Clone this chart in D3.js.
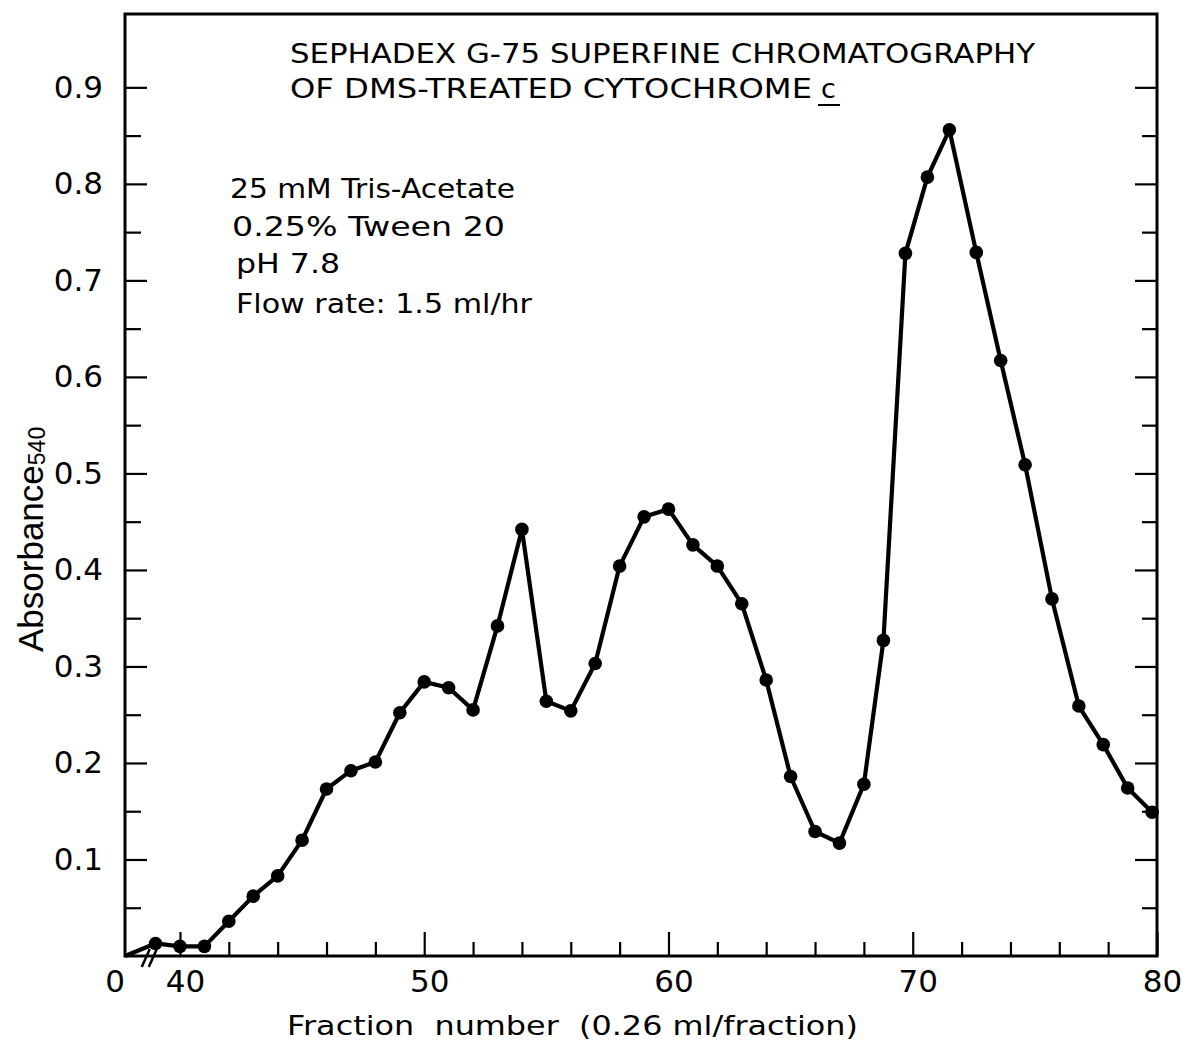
<!DOCTYPE html>
<html><head><meta charset="utf-8">
<script src="https://cdn.jsdelivr.net/npm/d3@7"></script>
<style>
body{margin:0;background:#fff}
text{font-family:"DejaVu Sans",sans-serif;fill:#000;white-space:pre}
</style>
</head><body>
<svg id="c" width="1182" height="1045"></svg>
<script>
// ---- data ----
const fractions = [0, 39, 40, 41, 42, 43, 44, 45, 46, 47, 48, 49, 50, 51, 52, 53, 54, 55, 56, 57, 58, 59, 60,
  61, 62, 63, 64, 65, 66, 67, 68, 68.8, 69.7, 70.6, 71.5, 72.6, 73.6, 74.6, 75.7, 76.8, 77.8, 78.8, 79.8];
const absorbance = [0, 0.013, 0.010, 0.010, 0.036, 0.062, 0.083, 0.120, 0.173, 0.192, 0.201, 0.252, 0.284, 0.278,
  0.255, 0.342, 0.442, 0.264, 0.254, 0.303, 0.404, 0.455, 0.463, 0.426, 0.404, 0.365, 0.286, 0.186, 0.129,
  0.117, 0.178, 0.327, 0.728, 0.807, 0.856, 0.729, 0.617, 0.509, 0.370, 0.259, 0.219, 0.174, 0.149];
const xMajorTicks = [40, 50, 60, 70, 80];
const xMinorTicks = [42, 44, 46, 48, 52, 54, 56, 58, 62, 64, 66, 68, 72, 74, 76, 78];
const yMajorTicks = [0.1, 0.2, 0.3, 0.4, 0.5, 0.6, 0.7, 0.8, 0.9];
const yMinorTicks = [0.05, 0.15, 0.25, 0.35, 0.45, 0.55, 0.65, 0.75, 0.85];
const titleLines = ["SEPHADEX G-75 SUPERFINE CHROMATOGRAPHY", "OF DMS-TREATED CYTOCHROME"];
const titleTail = "c";
const conditions = ["25 mM Tris-Acetate", "0.25% Tween 20", "pH 7.8", "Flow rate: 1.5 ml/hr"];
const xTitle = "Fraction  number  (0.26 ml/fraction)";
const yTitle = "Absorbance";
const yTitleSub = "540";

// ---- layout ----
const L = 125, R = 1157, T = 14, B = 956;
const svg = d3.select("#c");
svg.append("rect").attr("width", 1182).attr("height", 1045).attr("fill", "#fff");

// broken x scale: fraction 0 sits at the origin, then 37.75..80 linear
const x = d3.scaleLinear().domain([0, 37.75, 80]).range([L, L, R]);
const y = d3.scaleLinear().domain([0, 0.976]).range([B, T]);

// frame
svg.append("rect").attr("x", L).attr("y", T).attr("width", R - L).attr("height", B - T)
  .attr("fill", "none").attr("stroke", "#000").attr("stroke-width", 3);

function styleAxis(g) {
  g.select(".domain").remove();
  g.selectAll(".tick line").attr("stroke", "#000").attr("stroke-width", 2.2);
  g.selectAll("text").style("font-family", '"DejaVu Sans",sans-serif').style("font-size", "31px").attr("fill", "#000");
}

// left axis
svg.append("g").attr("transform", `translate(${L},0)`)
  .call(d3.axisLeft(y).tickValues(yMajorTicks).tickSize(-22).tickPadding(22).tickFormat(d3.format(".1f")))
  .call(styleAxis);
svg.append("g").attr("transform", `translate(${L},0)`)
  .call(d3.axisLeft(y).tickValues(yMinorTicks).tickSize(-16).tickFormat(""))
  .call(styleAxis);
// right axis
svg.append("g").attr("transform", `translate(${R},0)`)
  .call(d3.axisRight(y).tickValues(yMajorTicks).tickSize(-22).tickFormat(""))
  .call(styleAxis);
svg.append("g").attr("transform", `translate(${R},0)`)
  .call(d3.axisRight(y).tickValues(yMinorTicks).tickSize(-15).tickFormat(""))
  .call(styleAxis);
// bottom axis
const bx = svg.append("g").attr("transform", `translate(0,${B})`)
  .call(d3.axisBottom(x).tickValues(xMajorTicks).tickSize(-24).tickPadding(14).tickFormat(d3.format("d")))
  .call(styleAxis);
bx.selectAll("text").attr("dx", 5);
svg.append("g").attr("transform", `translate(0,${B})`)
  .call(d3.axisBottom(x).tickValues(xMinorTicks).tickSize(-14).tickFormat(""))
  .call(styleAxis);
// origin label
svg.append("text").attr("x", x(0) - 10).attr("y", B + 14).attr("dy", "0.71em")
  .attr("text-anchor", "middle").style("font-size", "31px").text("0");

// axis break marks
const brk = x(38.6);
[0, 7].forEach(o => {
  svg.append("line").attr("x1", brk - 4 + o).attr("y1", B + 11).attr("x2", brk + 4 + o).attr("y2", B - 7)
    .attr("stroke", "#000").attr("stroke-width", 2.5);
});

// data line + markers
const line = d3.line().x((d, i) => x(fractions[i])).y(d => y(d));
svg.append("path").datum(absorbance).attr("d", line)
  .attr("fill", "none").attr("stroke", "#000").attr("stroke-width", 4.2).attr("stroke-linejoin", "round");
svg.selectAll("circle.pt").data(absorbance.slice(1)).enter().append("circle")
  .attr("cx", (d, i) => x(fractions[i + 1])).attr("cy", d => y(d)).attr("r", 6.8).attr("fill", "#000");

// title
svg.append("text").attr("x", 290).attr("y", 63).style("font-size", "27px")
  .attr("textLength", 745).attr("lengthAdjust", "spacingAndGlyphs").text(titleLines[0]);
svg.append("text").attr("x", 290).attr("y", 98).style("font-size", "27px")
  .attr("textLength", 522).attr("lengthAdjust", "spacingAndGlyphs").text(titleLines[1]);
svg.append("text").attr("x", 821).attr("y", 98).style("font-size", "27px").text(titleTail);
svg.append("line").attr("x1", 818).attr("x2", 840).attr("y1", 105).attr("y2", 105)
  .attr("stroke", "#000").attr("stroke-width", 2);

// conditions
const condX = [230, 232, 236, 236];
const condY = [198, 236, 273, 313];
const condW = [285, 273, 104, 296];
conditions.forEach((c, i) => {
  svg.append("text").attr("x", condX[i]).attr("y", condY[i]).style("font-size", "27px")
    .attr("textLength", condW[i]).attr("lengthAdjust", "spacingAndGlyphs").text(c);
});

// axis titles
svg.append("text").attr("x", 287).attr("y", 1035).style("font-size", "27px")
  .attr("textLength", 571).attr("lengthAdjust", "spacingAndGlyphs").text(xTitle);
const yt = svg.append("text").attr("transform", "translate(43,652) rotate(-90)")
  .style("font-family", '"Liberation Sans",sans-serif').style("font-size", "35px");
yt.append("tspan").text(yTitle);
yt.append("tspan").attr("dy", 2).style("font-size", "23px").text(yTitleSub);
</script>
</body></html>
